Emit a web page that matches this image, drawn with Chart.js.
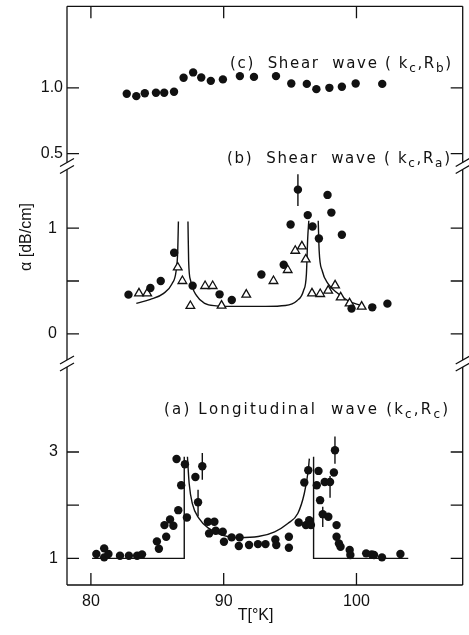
<!DOCTYPE html>
<html>
<head>
<meta charset="utf-8">
<script src="https://cdn.jsdelivr.net/npm/chart.js@4"></script>
<style>
  html, body { margin: 0; background: #fff; }
  canvas { display: block; }
</style>
</head>
<body>
<canvas id="chart" width="469" height="635"></canvas>
<script>
// x axis
const xTicks = [80, 90, 100];

// (c) shear wave (kc,Rb)
const cTicks = [0.5, 1.0];
const cLabels = ['0.5', '1.0'];
const cT = [82.7, 83.42, 84.06, 84.9, 85.52, 86.26, 86.98, 87.7, 88.31, 89.03, 89.94, 91.22, 92.28, 93.94, 95.09, 96.26, 96.98, 97.96, 98.9, 99.94, 101.94];
const cAlpha = [0.955, 0.937, 0.959, 0.963, 0.963, 0.97, 1.076, 1.117, 1.079, 1.053, 1.064, 1.089, 1.083, 1.089, 1.033, 1.03, 0.99, 1.0, 1.008, 1.033, 1.03];

// (b) shear wave (kc,Ra)
const bTicks = [0, 0.5, 1];
const bLabels = ['0', '', '1'];
const bT = [82.83, 84.48, 85.26, 86.27, 87.66, 89.69, 90.61, 92.84, 94.52, 95.04, 95.59, 96.33, 96.69, 97.17, 97.82, 98.11, 98.9, 99.63, 101.19, 102.33];
const bAlpha = [0.371, 0.434, 0.5, 0.767, 0.456, 0.374, 0.321, 0.562, 0.654, 1.034, 1.364, 1.123, 1.015, 0.902, 1.314, 1.147, 0.937, 0.239, 0.251, 0.286];
const bTriT = [83.62, 84.24, 86.54, 86.89, 87.49, 88.6, 89.17, 89.84, 91.7, 93.75, 94.82, 95.39, 95.89, 96.18, 96.65, 97.27, 97.87, 98.39, 98.81, 99.48, 100.39];
const bTriAlpha = [0.383, 0.383, 0.628, 0.5, 0.264, 0.453, 0.453, 0.267, 0.371, 0.5, 0.604, 0.786, 0.827, 0.704, 0.383, 0.377, 0.409, 0.459, 0.345, 0.289, 0.258];
const bFit1T = [83.42, 84.48, 85.48, 86.1, 86.42, 86.54, 86.59];
const bFit1A = [0.289, 0.326, 0.383, 0.472, 0.597, 0.786, 1.062];
const bFit2T = [87.31, 87.36, 87.51, 87.96, 88.57, 89.44, 90.5, 92.0, 93.16, 94.65, 95.52, 96.01, 96.23, 96.33, 96.41];
const bFit2A = [1.062, 0.69, 0.503, 0.361, 0.289, 0.265, 0.26, 0.26, 0.26, 0.268, 0.314, 0.408, 0.566, 0.911, 1.069];
const bFit3T = [97.12, 97.19, 97.42, 97.87, 98.49, 99.35, 100.35];
const bFit3A = [1.069, 0.786, 0.597, 0.472, 0.393, 0.314, 0.267];
const bErrT = [95.59];
const bErrLo = [1.21];
const bErrHi = [1.51];

// (a) longitudinal wave (kc,Rc)
const aTicks = [1, 2, 3];
const aLabels = ['1', '', '3'];
const aT = [80.41, 81.0, 81.0, 81.32, 82.19, 82.86, 83.48, 83.85, 84.97, 85.12, 85.54, 85.67, 85.96, 86.21, 86.58, 86.8, 86.45, 87.08, 87.23, 87.87, 88.39, 88.07, 88.81, 89.3, 88.9, 89.4, 89.93, 90.02, 90.6, 91.2, 91.14, 91.91, 92.58, 93.15, 93.89, 93.96, 94.91, 94.91, 95.65, 96.07, 96.37, 96.19, 96.44, 96.57, 97.01, 97.14, 97.26, 97.46, 97.61, 97.88, 98.01, 98.3, 98.38, 98.5, 98.5, 98.68, 98.8, 99.49, 99.54, 100.73, 101.15, 101.32, 101.92, 103.31];
const aAlpha = [1.081, 1.188, 1.019, 1.081, 1.049, 1.049, 1.049, 1.075, 1.319, 1.18, 1.625, 1.405, 1.732, 1.612, 1.906, 2.375, 2.869, 2.769, 1.769, 2.531, 2.732, 2.056, 1.687, 1.687, 1.469, 1.518, 1.5, 1.311, 1.394, 1.394, 1.231, 1.25, 1.268, 1.268, 1.356, 1.25, 1.405, 1.2, 1.675, 2.425, 2.657, 1.625, 1.719, 1.625, 2.375, 2.644, 2.094, 1.831, 2.437, 1.781, 2.437, 2.613, 3.032, 1.625, 1.405, 1.281, 1.219, 1.156, 1.062, 1.094, 1.075, 1.062, 1.019, 1.081];
const aFit1T = [80.09, 87.03, 87.03];
const aFit1A = [1, 1, 2.91];
const aFit2T = [87.27, 87.4, 87.64, 88.14, 88.88, 89.87, 91.12, 92.6, 93.84, 94.83, 95.58, 96.07, 96.37, 96.45];
const aFit2A = [2.91, 2.407, 2.03, 1.75, 1.563, 1.437, 1.39, 1.41, 1.5, 1.656, 1.844, 2.219, 2.657, 2.876];
const aFit3T = [96.77, 96.77, 103.9];
const aFit3A = [2.91, 1, 1];
const aErrT = [88.39, 88.07, 97.46, 98.01, 98.38];
const aErrLo = [2.48, 1.79, 1.59, 2.14, 2.78];
const aErrHi = [2.98, 2.29, 1.97, 2.55, 3.29];

const ink = '#111';
const fontFam = '"Liberation Sans", Arial, sans-serif';
const capFam = '"DejaVu Sans", sans-serif';
Chart.defaults.font.family = fontFam;
Chart.defaults.color = ink;

function pts(xs, ys) {
    return xs.map((x, i) => ({ x: x, y: ys[i] }));
}
function dots(data, axis) {
    return { data: data, yAxisID: axis, showLine: false, pointStyle: 'circle', pointRadius: 4.2,
             pointBackgroundColor: ink, pointBorderColor: ink, pointBorderWidth: 0 };
}
function tris(data, axis) {
    return { data: data, yAxisID: axis, showLine: false, pointStyle: 'triangle', pointRadius: 5,
             pointBackgroundColor: '#fff', pointBorderColor: ink, pointBorderWidth: 1.3 };
}
function curve(data, axis, smooth) {
    return { data: data, yAxisID: axis, showLine: true, pointRadius: 0, borderColor: ink,
             borderWidth: 1.4, fill: false, cubicInterpolationMode: smooth ? 'monotone' : 'default', tension: 0 };
}
function errBars(xs, lo, hi, axis) {
    return xs.map((x, i) => curve([{ x: x, y: lo[i] }, { x: x, y: hi[i] }], axis, false));
}

function panelAxis(min, max, weight, vals, labels, pad) {
    return {
        type: 'linear', position: 'left', stack: 'alpha', stackWeight: weight,
        min: min, max: max,
        grid: { display: false, drawTicks: false },
        border: { display: false },
        afterBuildTicks: s => { s.ticks = vals.map(v => ({ value: v })); },
        ticks: { padding: pad, font: { size: 16 }, callback: (v, i) => labels[i] },
        afterFit: s => { s.width = 67; s.paddingTop = 0; s.paddingBottom = 0; }
    };
}

const datasets = [
    dots(pts(cT, cAlpha), 'yC'),
    dots(pts(bT, bAlpha), 'yB'),
    tris(pts(bTriT, bTriAlpha), 'yB'),
    dots(pts(aT, aAlpha), 'yA'),
    curve(pts(bFit1T, bFit1A), 'yB', true),
    curve(pts(bFit2T, bFit2A), 'yB', true),
    curve(pts(bFit3T, bFit3A), 'yB', true),
    curve(pts(aFit1T, aFit1A), 'yA', false),
    curve(pts(aFit2T, aFit2A), 'yA', true),
    curve(pts(aFit3T, aFit3A), 'yA', false),
    ...errBars(bErrT, bErrLo, bErrHi, 'yB'),
    ...errBars(aErrT, aErrLo, aErrHi, 'yA')
];

const frame = {
    id: 'frame',
    afterDraw(chart) {
        const ctx = chart.ctx;
        const ca = chart.chartArea;
        const sx = chart.scales.x;
        const ys = [chart.scales.yA, chart.scales.yB, chart.scales.yC];
        const breaks = [chart.scales.yC.bottom, chart.scales.yB.bottom];
        ctx.save();
        ctx.strokeStyle = ink;
        ctx.lineWidth = 1.3;
        // frame with gaps at the breaks
        ctx.beginPath();
        ctx.moveTo(ca.left, ca.top); ctx.lineTo(ca.right, ca.top);
        ctx.moveTo(ca.left, ca.bottom); ctx.lineTo(ca.right, ca.bottom);
        [ca.left, ca.right].forEach(x => {
            ctx.moveTo(x, ca.top);
            breaks.forEach(b => { ctx.lineTo(x, b - 3.5); ctx.moveTo(x, b + 3.5); });
            ctx.lineTo(x, ca.bottom);
        });
        ctx.stroke();
        // break marks
        ctx.beginPath();
        [ca.left, ca.right].forEach(x => {
            breaks.forEach(b => {
                [-3.5, 3.5].forEach(d => {
                    ctx.moveTo(x - 7, b + d + 4);
                    ctx.lineTo(x + 7, b + d - 4);
                });
            });
        });
        ctx.stroke();
        // inward ticks
        ctx.beginPath();
        ys.forEach(s => {
            s.ticks.forEach(t => {
                const y = s.getPixelForValue(t.value);
                ctx.moveTo(ca.left, y); ctx.lineTo(ca.left + 12, y);
                ctx.moveTo(ca.right, y); ctx.lineTo(ca.right - 12, y);
            });
        });
        sx.ticks.forEach(t => {
            const x = sx.getPixelForValue(t.value);
            ctx.moveTo(x, ca.bottom); ctx.lineTo(x, ca.bottom - 12);
            ctx.moveTo(x, ca.top); ctx.lineTo(x, ca.top + 12);
        });
        ctx.stroke();

        // axis titles
        ctx.fillStyle = ink;
        ctx.font = '16px ' + fontFam;
        ctx.textAlign = 'center';
        ctx.textBaseline = 'alphabetic';
        ctx.fillText('T[°K]', sx.getPixelForValue(92.4), 620);
        ctx.save();
        ctx.translate(31, 237);
        ctx.rotate(-Math.PI / 2);
        ctx.fillText('α [dB/cm]', 0, 0);
        ctx.restore();

        // panel captions
        ctx.textAlign = 'left';
        drawCaption(ctx, [['(c)  Shear  wave ( k', 0], ['c', 1], [',R', 0], ['b', 1], [')', 0]], ca.left + 163, ca.left + 384, ca.top + 62);
        drawCaption(ctx, [['(b)  Shear  wave ( k', 0], ['c', 1], [',R', 0], ['a', 1], [')', 0]], ca.left + 160, ca.left + 383, ca.top + 157);
        drawCaption(ctx, [['(a) Longitudinal  wave (k', 0], ['c', 1], [',R', 0], ['c', 1], [')', 0]], ca.left + 97, ca.left + 381, ca.top + 408);
        ctx.restore();
    }
};

function drawCaption(ctx, parts, x0, x1, base) {
    const big = '15px ' + capFam, small = '12px ' + capFam;
    let w = 0, n = 0;
    parts.forEach(p => {
        ctx.font = p[1] ? small : big;
        for (const ch of p[0]) { w += ctx.measureText(ch).width; n++; }
    });
    const sp = Math.max(0, (x1 - x0 - w) / (n - 1));
    let x = x0;
    parts.forEach(p => {
        ctx.font = p[1] ? small : big;
        for (const ch of p[0]) {
            ctx.fillText(ch, x, base + (p[1] ? 4 : 0));
            x += ctx.measureText(ch).width + sp;
        }
    });
}

new Chart(document.getElementById('chart'), {
    type: 'scatter',
    data: { datasets: datasets },
    options: {
        responsive: false,
        animation: false,
        layout: { padding: { top: 5, right: 3, left: 0, bottom: 0 } },
        plugins: { legend: { display: false }, tooltip: { enabled: false } },
        scales: {
            x: {
                type: 'linear', min: 78.2, max: 108,
                grid: { display: false, drawTicks: false },
                border: { display: false },
                afterBuildTicks: s => { s.ticks = xTicks.map(v => ({ value: v })); },
                ticks: { padding: 7, font: { size: 16 } },
                afterFit: s => { s.height = 50; s.paddingLeft = 0; s.paddingRight = 0; }
            },
            yA: panelAxis(0.499, 4.664, 222, aTicks, aLabels, 9),
            yB: panelAxis(-0.28, 1.588, 198, bTicks, bLabels, 10),
            yC: panelAxis(0.407, 1.619, 160, cTicks, cLabels, 4)
        }
    },
    plugins: [frame]
});
</script>
</body>
</html>
